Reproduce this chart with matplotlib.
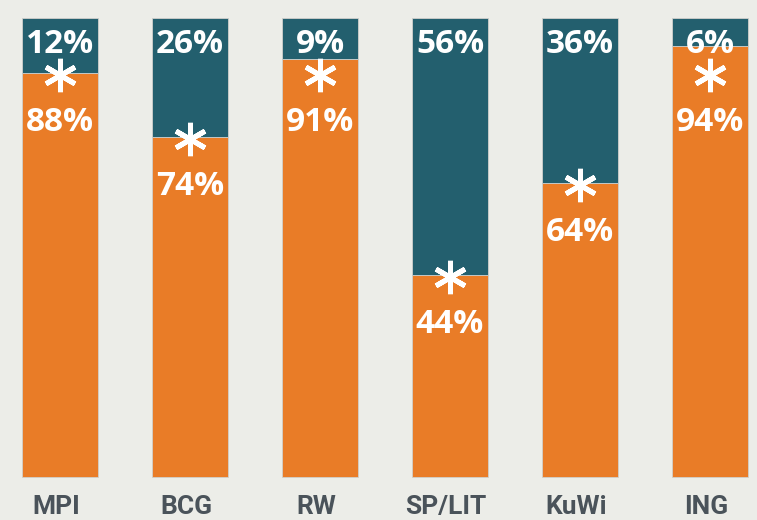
import matplotlib.pyplot as plt
from matplotlib.markers import MarkerStyle

categories = ["MPI", "BCG", "RW", "SP/LIT", "KuWi", "ING"]
orange_pct = [88, 74, 91, 44, 64, 94]
teal_pct = [12, 26, 9, 56, 36, 6]

bg = "#ECEDE8"
orange = "#E97C27"
teal = "#235F6E"
label_grey = "#4A535A"

fig = plt.figure(figsize=(7.57, 5.2), dpi=100, facecolor=bg)
ax = fig.add_axes([0, 0, 1, 1])
ax.set_facecolor(bg)

x = list(range(len(categories)))
ax.bar(x, orange_pct, width=0.585, color=orange, edgecolor="#d0d0cc", linewidth=0.6)
ax.bar(x, teal_pct, bottom=orange_pct, width=0.585, color=teal,
       edgecolor="#d0d0cc", linewidth=0.6)

star = MarkerStyle((6, 2, 0), capstyle="round")
for i, (o, t) in enumerate(zip(orange_pct, teal_pct)):
    # top share
    ax.text(i, 92.4, f"{t}%", ha="center", va="baseline", color="white",
            fontsize=24, fontweight="bold", family="Open Sans")
    star_y = min(o, 88) - 0.4
    ax.plot(i, star_y, marker=star, markersize=24, markeredgewidth=3.6,
            color="white", linestyle="none")
    ax.text(i, star_y - 12.2, f"{o}%", ha="center", va="baseline", color="white",
            fontsize=24, fontweight="bold", family="Open Sans")
    ax.text(i - 0.03, -9.1, categories[i], ha="center", va="bottom",
            color=label_grey, fontsize=19, fontweight="bold", family="Roboto")

ax.set_xlim(-60 / 130, 697 / 130)
ax.set_ylim(-43 / 4.59, 100 + 18 / 4.59)
ax.axis("off")

fig.savefig("out.png", dpi=100, facecolor=bg)
